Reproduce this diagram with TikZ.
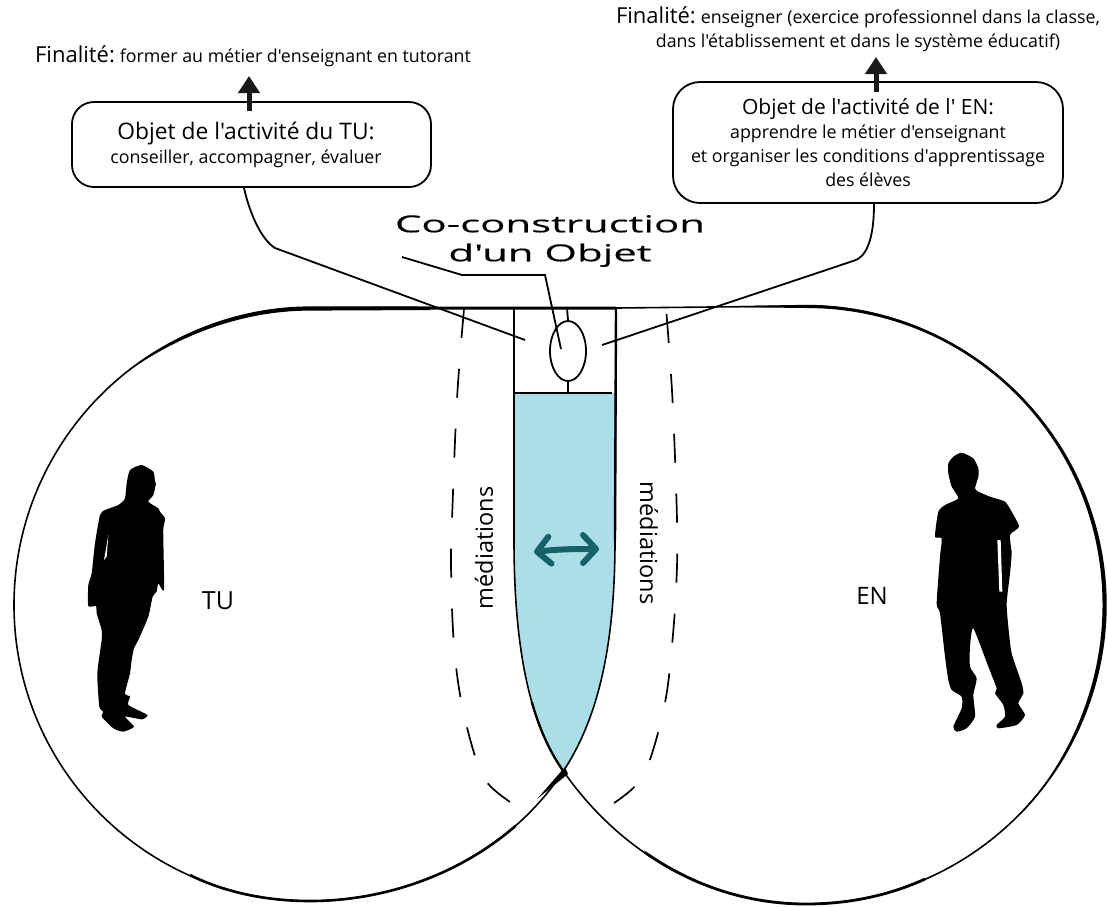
\documentclass[tikz,border=0pt]{standalone}
\usepackage{fontspec}
\setmainfont{Open Sans}[Ligatures=TeXOff]
\newfontfamily\widefont[FakeStretch=1.79,FakeBold=0.4]{Open Sans}
\usetikzlibrary{positioning,shapes,arrows.meta}
\definecolor{lens}{HTML}{ACDEE9}
\definecolor{teal}{HTML}{15626A}
\newcommand{\headtxt}{\fontsize{22}{24}\selectfont}

\begin{document}
\begin{tikzpicture}[
    x=1pt, y=-1pt,
    box/.style={
        rectangle, rounded corners=22pt,
        draw=black, line width=1.8pt,
        align=center, fill=white, inner sep=0pt,
        font=\fontsize{17.8}{24}\selectfont
    },
    plain/.style={align=center, inner sep=0pt, font=\fontsize{17.8}{24}\selectfont},
    side/.style={font=\fontsize{23.5}{26}\selectfont, inner sep=0pt},
    link/.style={line width=1.8pt, black},
    outline/.style={line width=1.6pt, black},
    medline/.style={line width=1.7pt, dash pattern=on 29pt off 31pt},
    uparrow/.style={-{Triangle[length=17pt,width=21pt]}, line width=5pt, black!90},
    figure/.style={fill=black, draw=none}
]

\useasboundingbox (0,0) rectangle (1107,906);

\fill[lens] (514,393) -- (514,540) .. controls (514,650) and (530,725) .. (564,772) .. controls (600,715) and (615,640) .. (615,540) -- (615,393) -- cycle;

\draw[outline] (616,308) -- (310,308) .. controls (146.5,308) and (14,441.5) .. (14,605) .. controls (14,768.5) and (146.5,901) .. (310,901) .. controls (410,901) and (509.5,854) .. (564,770) .. controls (600,715) and (615,640) .. (615,540) -- cycle;
\draw[outline] (514,308) -- (514,540) .. controls (514,650) and (530,725) .. (564,772) .. controls (619.6,851.5) and (707,904) .. (806,904) .. controls (971,904) and (1105,770) .. (1105,605) .. controls (1105,440) and (971,306) .. (806,306) -- (616,308);

\fill (430,306.5) -- (310,306.4) .. controls (245,306.4) and (181,329) .. (130,370) .. controls (182,333.5) and (245,310.6) .. (310,310.6) -- (430,310) -- cycle;
\fill (740,306) -- (806,304.8) .. controls (971,304.8) and (1106.7,440) .. (1106.7,605) .. controls (1106.7,683.6) and (1075,759) .. (1020,815) .. controls (1072,757) and (1102.5,683) .. (1102.5,605) .. controls (1102.5,440) and (971,308) .. (806,308) -- (740,307.2) -- cycle;
\draw[line width=3pt] (310,308.3) -- (616,308);
\draw[line width=2.4pt] (514,308) -- (514,540);
\draw[line width=2.4pt] (616,308) -- (615,540);
\draw[line width=2.6pt] (190,875) .. controls (226,893) and (268,901) .. (310,901) .. controls (385,901) and (459.7,874.3) .. (515.4,826);
\draw[line width=2.8pt] (644.7,852.2) .. controls (691.4,885.1) and (746.6,904) .. (806,904) .. controls (850,904) and (890,895) .. (925,879);
\fill (565,767) -- (537,799) -- (568,774) -- cycle;
\draw[line width=2.3pt] (531.7,701.7) .. controls (539.7,729.9) and (550.4,753.2) .. (564,772);

\draw[medline] plot[smooth,tension=0.6] coordinates {(464,309) (457,399) (452,520) (451,564) (453.6,640) (461,700) (475,756) (487.5,783) (510,802)};
\draw[medline] plot[smooth,tension=0.6] coordinates {(666.5,314) (672.5,400) (677,520) (676.5,580) (672.5,640) (665.5,700) (650.5,758) (636,785) (614,803)};

\node[ellipse, draw, line width=1.8pt, fill=white, minimum width=36pt, minimum height=60pt, inner sep=0pt] (objet) at (568,351) {};
\draw[link] (514,393) -- (612,393);
\draw[link] (567,308) -- (objet.north);
\draw[link] (objet.south) -- (568,393);

\node[box, minimum width=359pt, minimum height=85pt] (objettu) at (251.5,144.5) {\hspace*{-11pt}{\fontsize{22.8}{24}\selectfont Objet de l'activité du TU:}\\\hspace*{-11pt}conseiller, accompagner, évaluer};
\node[box, rounded corners=27pt, minimum width=390pt, minimum height=121pt] (objeten) at (868,142.5) {{\fontsize{21}{24}\selectfont Objet de l'activité de l' EN:}\\apprendre le métier d'enseignant\\et organiser les conditions d'apprentissage\\des élèves};

\node[plain] (fintu) at (253,56) {{\headtxt Finalité:}\hspace{5pt}former au métier d'enseignant en tutorant};
\node[plain] (finen) at (858,29) {{\headtxt Finalité:}\hspace{5pt}enseigner (exercice professionnel dans la classe,\\dans l'établissement et dans le système éducatif)};

\coordinate (tuend) at (525,340);
\coordinate (enend) at (602,345);
\coordinate (coend) at (561,349);

\node[plain, font=\widefont\fontsize{23.4}{29}\selectfont] (coobjet) at (550,241) {Co-construction\\d'un Objet};

\draw[link] ([xshift=-7.5pt]objettu.south) .. controls (250,215) and (262,240) .. (275,248) -- (tuend);
\draw[link] ([xshift=6pt]objeten.south) .. controls (874,240) and (866,258) .. (853,261) -- (enend);
\draw[link] (402,257) -- (462,275) -- (545,275) -- (coend);

\draw[uparrow] ([xshift=-2.5pt,yshift=-10pt]objettu.north) -- (249,76);
\draw[uparrow] ([xshift=8pt,yshift=-11pt]objeten.north) -- (876,57);

\draw[{Straight Barb[round,length=13pt,width=27pt]}-{Straight Barb[round,length=13pt,width=28pt]}, line width=6pt, line cap=round, teal] (534,552) .. controls (560,549) and (575,549) .. (599,549);

\node[side, rotate=90] (medtu) at (484,548) {médiations};
\node[side, rotate=-90] (meden) at (649,543) {médiations};
\node[inner sep=0pt, font=\fontsize{25}{26}\selectfont] (tu) at (218,601) {TU};
\node[inner sep=0pt, font=\fontsize{24}{26}\selectfont] (en) at (872,596) {EN};

\begin{scope}[shift={(60,440)}, scale=0.3333]
\fill[figure] plot[smooth cycle,tension=0.35] coordinates {(245,75) (280,95) (285,125) (288,130) (280,165) (265,185) (295,205) (300,215) (315,235) (310,265) (310,300) (312,450) (295,430) (290,455) (278,470) (265,530) (235,600) (222,625) (215,660) (210,700) (195,760) (210,770) (205,795) (262,825) (245,838) (195,830) (222,860) (190,875) (160,865) (125,830) (130,815) (118,800) (112,700) (125,600) (125,570) (110,520) (108,498) (85,498) (85,435) (95,400) (105,310) (120,225) (135,210) (175,195) (195,175) (200,130) (210,90)};
\fill[white] (145,285) -- (132,360) -- (140,350) -- cycle;
\end{scope}

\begin{scope}[shift={(910,440)}, scale=0.3333]
\fill[figure] plot[smooth cycle,tension=0.35] coordinates {(155,38) (190,55) (205,85) (205,110) (195,145) (205,155) (240,170) (285,185) (305,215) (327,260) (300,285) (305,340) (300,400) (290,490) (295,560) (305,640) (335,730) (340,760) (325,790) (345,825) (320,855) (265,865) (260,855) (285,830) (280,795) (255,760) (260,745) (235,680) (190,565) (180,620) (180,680) (200,715) (190,765) (195,830) (170,865) (140,875) (130,860) (155,805) (155,770) (125,750) (115,720) (105,650) (90,520) (80,490) (90,350) (95,295) (75,290) (85,215) (105,195) (145,175) (125,140) (115,100) (115,70) (130,50)};
\fill[white] (262,300) -- (268,455) -- (277,455) -- (272,300) -- cycle;
\end{scope}

\end{tikzpicture}
\end{document}
